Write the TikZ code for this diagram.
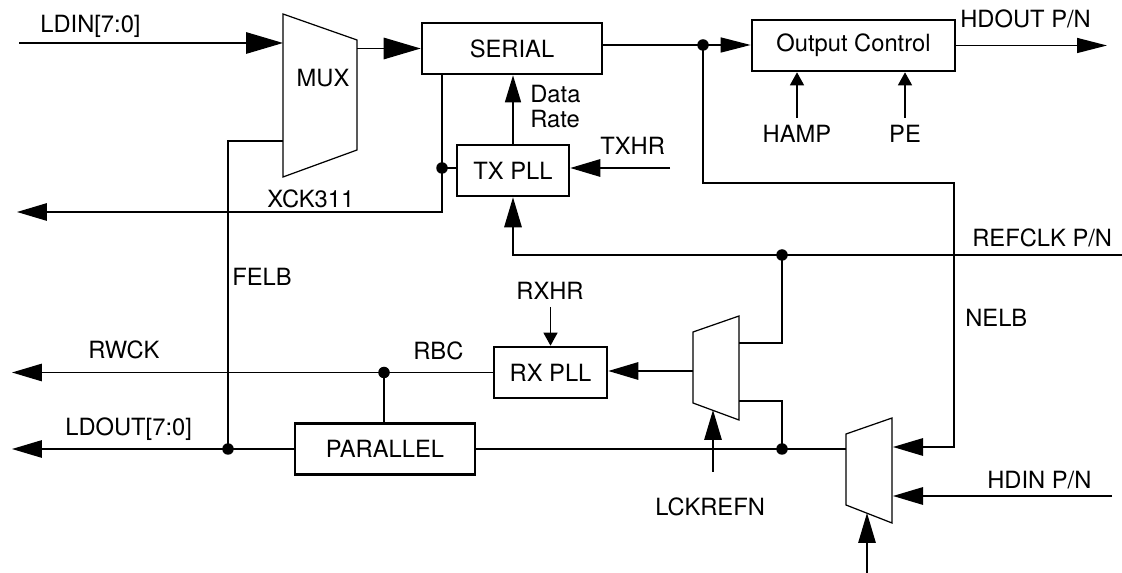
\documentclass[tikz,border=0pt]{standalone}
\usepackage{fontspec}
\setmainfont{TeX Gyre Heros}
\usetikzlibrary{arrows.meta}
\begin{document}
\begin{tikzpicture}[x=0.02cm,y=-0.02cm,
  txt/.style={font=\fontsize{13.5}{16}\selectfont},
  wire/.style={line width=0.8pt},
  muxshape/.style={draw,line width=0.7pt},
  blk/.style={draw,line width=1.5pt,minimum height=1.02cm,inner sep=0pt,txt},
  lbl/.style={inner sep=0pt,txt},
  dot/.style={circle,fill,inner sep=0pt,minimum size=0.23cm},
  huge/.style={-{Triangle[length=0.74cm,width=0.43cm]}},
  big/.style={-{Triangle[length=0.6cm,width=0.35cm]}},
  mid/.style={-{Triangle[length=0.6cm,width=0.3cm]}},
  dr/.style={-{Triangle[length=0.54cm,width=0.32cm]}},
  small/.style={-{Triangle[length=0.26cm,width=0.28cm]}}]
\useasboundingbox (0,0) rectangle (1122,573);

% blocks
\node[blk,minimum width=3.6cm] (serial) at (512,48.5) {SERIAL};
\node[blk,minimum width=4.06cm] (oc) at (853.5,45.5) {Output Control};
\node[blk,minimum width=2.24cm] (txpll) at (513,170.5) {TX PLL};
\node[blk,minimum width=2.26cm] (rxpll) at (550.5,372.5) {RX PLL};
\node[blk,minimum width=3.6cm] (par) at (385,449) {PARALLEL};

% muxes
\draw[muxshape] (283,14) -- (357,40) -- (357,150) -- (283,177) -- cycle;
\node[lbl,anchor=base] (muxl) at (323,87) {MUX};
\draw[muxshape] (693,332) -- (739,316) -- (739,420) -- (693,403) -- cycle;
\draw[muxshape] (846,434) -- (892,418) -- (892,523) -- (846,505) -- cycle;

% coordinates
\coordinate (ldin) at (19,43);
\coordinate (muxin) at (283,43);
\coordinate (muxout) at (357,48.5);
\coordinate (muxfb) at (283,141);
\coordinate (odot) at (703,45);
\coordinate (hdout) at (1107,45.5);
\coordinate (hamp) at (797,118);
\coordinate (pe) at (905,118);
\coordinate (lpa) at (703,183);
\coordinate (lpb) at (954,183);
\coordinate (lpc) at (954,447);
\coordinate (m2a) at (893,447);
\coordinate (refin) at (1122,255);
\coordinate (refdot) at (782,255);
\coordinate (refl) at (513,255);
\coordinate (txhr) at (670,168);
\coordinate (xdot) at (442,168);
\coordinate (xcor) at (442,212);
\coordinate (xck) at (17,212);
\coordinate (felbc) at (228,141);
\coordinate (felbdot) at (228,449);
\coordinate (ldout) at (12,449);
\coordinate (rwck) at (12,372.5);
\coordinate (rdot) at (384,372.5);
\coordinate (rxhr) at (550.5,307);
\coordinate (m1out) at (693,371);
\coordinate (m1a) at (739,343);
\coordinate (m1b) at (739,401);
\coordinate (pdot) at (782,449);
\coordinate (m2l) at (846,449);
\coordinate (lck) at (713,472);
\coordinate (lcktip) at (713,410);
\coordinate (hdin) at (1112,496);
\coordinate (m2b) at (893,496);
\coordinate (selin) at (867,573);
\coordinate (seltip) at (867,513);

% top path
\draw[wire,huge] (ldin) -- (muxin);
\draw[wire,huge] (muxout) -- (serial.west);
\draw[wire] (serial.east |- odot) -- (odot);
\draw[wire,mid] (odot) -- (oc.west |- odot);
\draw[wire,mid] (oc.east) -- (hdout);
\draw[wire,small] (hamp) -- (hamp |- oc.south);
\draw[wire,small] (pe) -- (pe |- oc.south);
\draw[wire,big] (odot) -- (lpa) -- (lpb) -- (lpc) -- (m2a);

% TX PLL
\draw[wire,dr] (txpll.north) -- (txpll.north |- serial.south);
\draw[wire,big] (txhr) -- (txpll.east |- txhr);
\draw[wire,big] (refin) -- (refdot) -- (refl) -- (txpll.south);
\draw[wire,big] (serial.south -| xdot) -- (xdot) -- (xcor) -- (xck);
\draw[wire] (xdot) -- (txpll.west |- xdot);

% FELB
\draw[wire] (muxfb) -- (felbc) -- (felbdot);

% RX side
\draw[wire,big] (rxpll.west) -- (rwck);
\draw[wire] (rdot) -- (rdot |- par.north);
\draw[wire,big] (par.west) -- (ldout);
\draw[wire] (par.east) -- (pdot) -- (m2l);
\draw[wire,small] (rxhr) -- (rxpll.north);
\draw[wire,big] (m1out) -- (rxpll.east |- m1out);
\draw[wire] (m1a) -- (m1a -| refdot) -- (refdot);
\draw[wire] (m1b) -- (m1b -| pdot) -- (pdot);
\draw[wire,big] (lck) -- (lcktip);
\draw[wire,big] (hdin) -- (m2b);
\draw[wire,big] (selin) -- (seltip);

% dots
\node[dot] (d1) at (odot) {};
\node[dot] (d2) at (xdot) {};
\node[dot] (d3) at (refdot) {};
\node[dot] (d4) at (rdot) {};
\node[dot] (d5) at (felbdot) {};
\node[dot] (d6) at (pdot) {};

% labels
\node[lbl,anchor=base west] (l1) at (40,33) {LDIN[7:0]};
\node[lbl,anchor=base west] (l2) at (960,28) {HDOUT P/N};
\node[lbl,anchor=base] (l3) at (797,143) {HAMP};
\node[lbl,anchor=base] (l4) at (905,143) {PE};
\node[lbl,anchor=base west] (l5) at (530,103) {Data};
\node[lbl,anchor=base west] (l6) at (530,128) {Rate};
\node[lbl,anchor=base west] (l7) at (600,155) {TXHR};
\node[lbl,anchor=base west] (l8) at (267,208) {XCK311};
\node[lbl,anchor=base west] (l9) at (972,247) {REFCLK P/N};
\node[lbl,anchor=base west] (l10) at (232,286) {FELB};
\node[lbl,anchor=base west] (l11) at (965,327) {NELB};
\node[lbl,anchor=base] (l12) at (550,300) {RXHR};
\node[lbl,anchor=base west] (l13) at (88,359) {RWCK};
\node[lbl,anchor=base west] (l14) at (413,360) {RBC};
\node[lbl,anchor=base west] (l15) at (65,436) {LDOUT[7:0]};
\node[lbl,anchor=base west] (l16) at (655,516) {LCKREFN};
\node[lbl,anchor=base west] (l17) at (987,489) {HDIN P/N};
\end{tikzpicture}
\end{document}
